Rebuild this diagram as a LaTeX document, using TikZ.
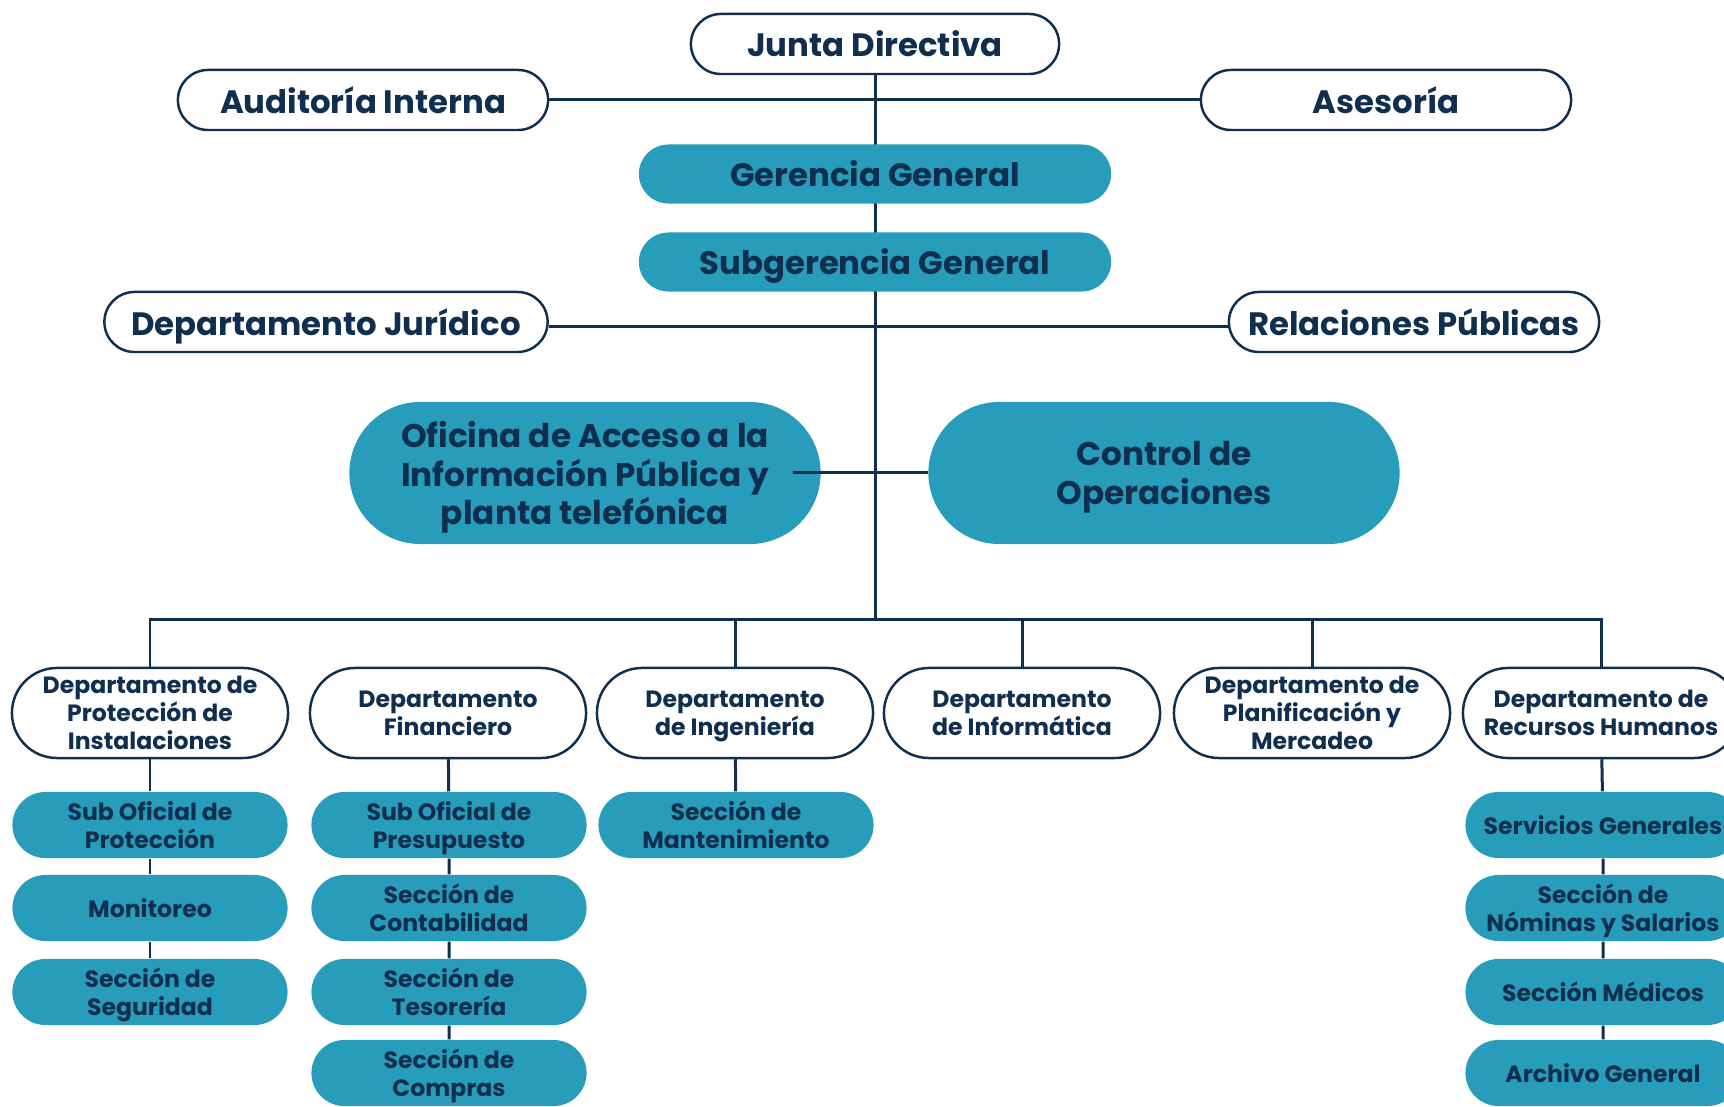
\documentclass[tikz,border=0pt]{standalone}
\usepackage{fontspec}
\setmainfont{Poppins}
\usetikzlibrary{backgrounds}
\definecolor{marine}{HTML}{102F4F}
\definecolor{turquoise}{HTML}{289DBB}

\begin{document}
\begin{tikzpicture}[x=0.01cm,y=-0.01cm]
\tikzstyle{lien}=[draw=marine,line width=0.85pt]
\tikzset{organe/.style={draw=marine,line width=0.7pt,fill=white,text=marine,inner sep=0pt,
  minimum width=#1,minimum height=0.6cm,rounded corners=0.3cm,align=center,text depth=0pt,
  font=\fontsize{9.2}{11}\selectfont\bfseries},
organe/.default={3.7cm},
gerence/.style={fill=turquoise,text=marine,inner sep=0pt,minimum width=4.72cm,text depth=0pt,
  minimum height=0.59cm,rounded corners=0.295cm,font=\fontsize{9.2}{11}\selectfont\bfseries},
bulle/.style={fill=turquoise,text=marine,inner sep=0pt,minimum width=4.71cm,text depth=0pt,
  minimum height=1.42cm,rounded corners=0.71cm,align=center,
  font=\fontsize{9.3}{11}\selectfont\bfseries},
depart/.style={draw=marine,line width=0.7pt,fill=white,text=marine,inner sep=0pt,
  minimum width=2.76cm,minimum height=0.9cm,rounded corners=0.45cm,align=center,text depth=0pt,
  font=\fontsize{6.7}{8}\selectfont\bfseries},
section/.style={fill=turquoise,text=marine,inner sep=0pt,minimum width=2.75cm,
  minimum height=0.66cm,rounded corners=0.33cm,align=center,text depth=0pt,
  font=\fontsize{6.7}{8}\selectfont\bfseries}}
\useasboundingbox (0,0) rectangle (1724,1107);
\clip (0,0) rectangle (1724,1107);

% direction
\node[organe=3.68cm] (junta) at (875,44) {Junta Directiva};
\node[organe] (audit) at (363,100) {Auditoría Interna};
\node[organe] (ases) at (1386,100) {Asesoría};
\node[gerence] (gerg) at (875,174) {Gerencia General};
\node[gerence] (subg) at (875,262) {Subgerencia General};
\node[organe=4.43cm] (jurid) at (326,322) {Departamento Jurídico};
\node[organe] (relpub) at (1414,322) {Relaciones Públicas};
\node[bulle] (ofi) at (585,473) {Oficina de Acceso a la\\Información Pública y\\planta telefónica};
\node[bulle] (ctrl) at (1164,473) {Control de\\Operaciones};
\coordinate (bus) at (875,620);

% departements
\node[depart] (dprot) at (150,713) {Departamento de\\Protección de\\Instalaciones};
\node[depart] (dfin) at (448,713) {Departamento\\Financiero};
\node[depart] (ding) at (735,713) {Departamento\\de Ingeniería};
\node[depart] (dinf) at (1022,713) {Departamento\\de Informática};
\node[depart] (dplan) at (1312,713) {Departamento de\\Planificación y\\Mercadeo};
\node[depart] (drh) at (1601,713) {Departamento de\\Recursos Humanos};

% sections
\node[section] (sprot1) at (150,825) {Sub Oficial de\\Protección};
\node[section] (sprot2) at (150,908) {Monitoreo};
\node[section] (sprot3) at (150,992) {Sección de\\Seguridad};
\node[section] (sfin1) at (449,825) {Sub Oficial de\\Presupuesto};
\node[section] (sfin2) at (449,908) {Sección de\\Contabilidad};
\node[section] (sfin3) at (449,992) {Sección de\\Tesorería};
\node[section] (sfin4) at (449,1073) {Sección de\\Compras};
\node[section] (sing1) at (736,825) {Sección de\\Mantenimiento};
\node[section] (srh1) at (1603,825) {Servicios Generales};
\node[section] (srh2) at (1603,908) {Sección de\\Nóminas y Salarios};
\node[section] (srh3) at (1603,992) {Sección Médicos};
\node[section] (srh4) at (1603,1073) {Archivo General};

\begin{pgfonlayer}{background}
\draw[lien] (junta) -- (bus);
\draw[lien] (audit.east) -- (ases.west);
\draw[lien] ([yshift=-0.05cm]jurid.east) -- ([yshift=-0.05cm]relpub.west);
\draw[lien] (dprot.north) |- (bus) -| (drh.north);
\draw[lien] (ding.north) -- (ding.north |- bus);
\draw[lien] (dinf.north) -- (dinf.north |- bus);
\draw[lien] (dplan.north) -- (dplan.north |- bus);
\draw[lien] (dprot) -- (sprot1) -- (sprot2) -- (sprot3);
\draw[lien] (dfin) -- (sfin1) -- (sfin2) -- (sfin3) -- (sfin4);
\draw[lien] (ding) -- (sing1);
\draw[lien] (drh) -- (srh1) -- (srh2) -- (srh3) -- (srh4);
\end{pgfonlayer}
\draw[lien] ([xshift=-0.28cm]ofi.east) -- (ctrl.west);

\end{tikzpicture}
\end{document}
